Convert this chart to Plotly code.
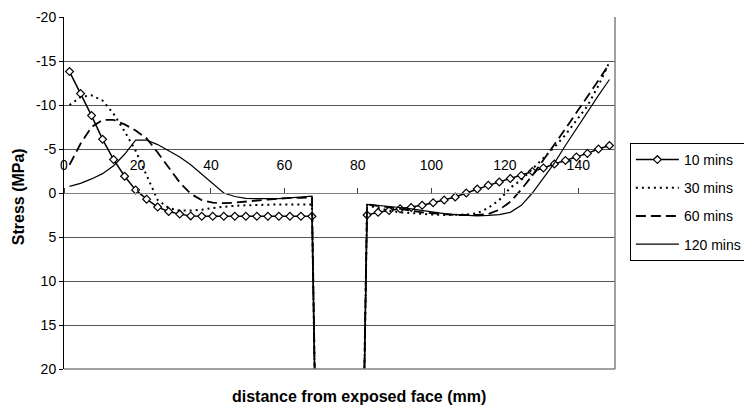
import plotly.graph_objects as go

# distance from exposed face (mm)
x_mm = [1.5, 4.5, 7.5, 10.5, 13.5, 16.5, 19.5, 22.5, 25.5, 28.5, 31.5, 34.5,
        37.5, 40.5, 43.5, 46.5, 49.5, 52.5, 55.5, 58.5, 61.5, 64.5, 67.5,
        69.0, 81.0,
        82.5, 85.5, 88.5, 91.5, 94.5, 97.5, 100.5, 103.5, 106.5, 109.5, 112.5,
        115.5, 118.5, 121.5, 124.5, 127.5, 130.5, 133.5, 136.5, 139.5, 142.5,
        145.5, 148.5]

# stress (MPa)
s_10 = [-13.8, -11.3, -8.8, -6.1, -3.8, -1.9, -0.35, 0.7, 1.6, 2.1, 2.4, 2.6,
        2.65, 2.65, 2.65, 2.65, 2.65, 2.65, 2.65, 2.65, 2.65, 2.65, 2.65,
        40.0, 40.0,
        2.5, 2.2, 2.0, 1.8, 1.65, 1.4, 1.1, 0.8, 0.45, 0.0, -0.45,
        -0.87, -1.25, -1.65, -2.0, -2.45, -2.85, -3.3, -3.7, -4.1, -4.5,
        -5.0, -5.4]
s_30 = [-10.0, -10.9, -11.1, -10.5, -9.0, -7.0, -4.8, -2.0, 0.8, 1.7, 2.0, 2.0,
        1.9, 1.7, 1.55, 1.45, 1.4, 1.35, 1.3, 1.3, 1.3, 1.3, 1.3,
        40.0, 40.0,
        1.4, 1.7, 2.0, 2.2, 2.3, 2.4, 2.45, 2.5, 2.5, 2.45, 2.3,
        1.7, 0.8, -0.6, -1.5, -2.7, -3.9, -5.2, -6.6, -8.2, -9.9,
        -12.2, -14.9]
s_60 = [-3.2, -5.6, -7.5, -8.3, -8.3, -7.8, -7.1, -6.2, -4.6, -2.9, -1.2, 0.1,
        0.8, 1.1, 1.15, 1.1, 0.95, 0.85, 0.75, 0.65, 0.55, 0.55, 0.5,
        40.0, 40.0,
        1.3, 1.45, 1.6, 1.8, 2.0, 2.2, 2.3, 2.4, 2.5, 2.5, 2.5,
        2.4, 1.9, 1.0, -0.4, -2.0, -3.7, -5.5, -7.3, -9.1, -10.9,
        -12.8, -14.7]
s_120 = [-0.75, -1.1, -1.6, -2.2, -3.1, -4.4, -6.0, -6.0, -5.5, -4.8, -4.1, -3.2,
         -2.1, -1.0, 0.0, 0.4, 0.6, 0.65, 0.65, 0.65, 0.55, 0.45, 0.35,
         40.0, 40.0,
         1.3, 1.4, 1.5, 1.65, 1.8, 2.0, 2.2, 2.35, 2.45, 2.55, 2.6,
         2.55, 2.45, 2.2, 1.4, 0.0, -1.7, -3.4, -5.4, -7.3, -9.3,
         -11.1, -12.9]

series_names = ["10 mins", "30 mins", "60 mins", "120 mins"]

y_tickvals = [-20, -15, -10, -5, 0, 5, 10, 15, 20]
y_ticktext = ["-20", "-15", "-10", "-5", "0", "5", "10", "15", "20"]
x_tickvals = [0, 20, 40, 60, 80, 100, 120, 140]

FONT = "Liberation Sans, Arial, sans-serif"

fig = go.Figure()
fig.add_trace(go.Scatter(
    x=x_mm, y=s_10, name=series_names[0], mode="lines+markers",
    line=dict(color="black", width=1.5),
    marker=dict(symbol="diamond", size=6, color="white",
                line=dict(color="black", width=1.2)),
    legendgroup="a"))
fig.add_trace(go.Scatter(
    x=x_mm, y=s_30, name=series_names[1], mode="lines",
    line=dict(color="black", width=2, dash="2px,4px"),
    legendgroup="b"))
fig.add_trace(go.Scatter(
    x=x_mm, y=s_60, name=series_names[2], mode="lines",
    line=dict(color="black", width=1.8, dash="10px,5px"),
    legendgroup="c"))
fig.add_trace(go.Scatter(
    x=x_mm, y=s_120, name=series_names[3], mode="lines",
    line=dict(color="black", width=1.2),
    legendgroup="d"))

fig.update_layout(
    width=752, height=407,
    margin=dict(l=56, r=145, t=9, b=46, autoexpand=False),
    paper_bgcolor="white", plot_bgcolor="white",
    font=dict(family=FONT, size=13.5, color="black"),
    showlegend=True,
    legend=dict(x=1.027, y=0.642, xanchor="left", yanchor="top",
                bordercolor="black", borderwidth=1,
                font=dict(family=FONT, size=14, color="black"),
                itemwidth=43, tracegroupgap=7, traceorder="grouped",
                bgcolor="white"),
    xaxis=dict(range=[0, 150], tickvals=x_tickvals,
               anchor="free", position=0.5, side="top",
               showgrid=False, zeroline=False,
               showline=True, linecolor="#808080", linewidth=1,
               ticks="outside", ticklen=5, tickcolor="#404040",
               ticklabelstandoff=12,
               tickfont=dict(family=FONT, size=14, color="black")),
    yaxis=dict(range=[20, -20], tickvals=y_tickvals, ticktext=y_ticktext,
               showgrid=True, gridcolor="#555555", gridwidth=1,
               zeroline=False, ticklabeloverflow="allow",
               showline=True, linecolor="black", linewidth=1,
               ticks="outside", ticklen=4, tickcolor="black",
               tickfont=dict(family=FONT, size=14, color="black")),
    shapes=[
        dict(type="line", xref="paper", yref="paper", x0=1, x1=1, y0=0, y1=1,
             line=dict(color="#808080", width=1.5)),
        dict(type="line", xref="paper", yref="paper", x0=0, x1=1, y0=0, y1=0,
             line=dict(color="#808080", width=1.5)),
    ],
    annotations=[
        dict(text="<b>Stress (MPa)</b>", xref="paper", yref="paper",
             x=-0.081, y=0.489, xanchor="center", yanchor="middle",
             textangle=-90, showarrow=False,
             font=dict(family=FONT, size=16, color="black")),
        dict(text="<b>distance from exposed face (mm)</b>", xref="paper",
             yref="paper", x=0.535, y=-0.077, xanchor="center",
             yanchor="middle", showarrow=False,
             font=dict(family=FONT, size=16, color="black")),
    ],
)

fig.write_html("out.html")
